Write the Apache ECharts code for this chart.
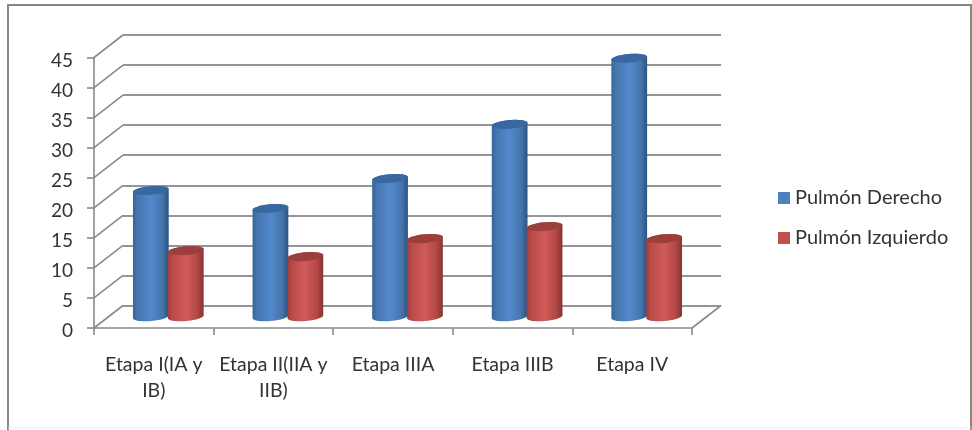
<!DOCTYPE html>
<html>
<head>
<meta charset="utf-8">
<style>html,body{margin:0;padding:0;background:#fff}#chart{width:972px;height:430px}</style>
<script src="https://cdn.jsdelivr.net/npm/echarts@6/dist/echarts.min.js"></script>
</head>
<body>
<div id="chart"></div>
<script>
const categories = ['Etapa I(IA y\nIB)', 'Etapa II(IIA y\nIIB)', 'Etapa IIIA', 'Etapa IIIB', 'Etapa IV'];
const derecho = [21, 18, 23, 32, 43];
const izquierdo = [11, 10, 13, 15, 13];
const yTicks = [0, 5, 10, 15, 20, 25, 30, 35, 40, 45];

// Depth of the pseudo-3D box, in pixels
const DEPTH_X = 29, DEPTH_Y = -22.5;
const AXIS = '#8a8a8a', WALL = '#959595', TEXT = '#333333', FONT = 'Lato';

function ring(cx, cy, a, b, from, to, steps) {
  const r = -5 * Math.PI / 180, pts = [];
  for (let i = 0; i <= steps; i++) {
    const t = from + (to - from) * i / steps;
    pts.push([
      cx + a * Math.cos(t) * Math.cos(r) - b * Math.sin(t) * Math.sin(r),
      cy + a * Math.cos(t) * Math.sin(r) + b * Math.sin(t) * Math.cos(r)
    ]);
  }
  return pts;
}

function cylinder(side, stops, capColor) {
  return function (params, api) {
    const base = api.coord([api.value(0), 0]);
    const top = api.coord([api.value(0), api.value(1)]);
    const band = api.size([1, 0])[0];
    const a = band * 0.15, b = 4.3;
    const cx = base[0] + DEPTH_X / 2 + side * band * 0.146;
    const y0 = base[1] + DEPTH_Y / 2;
    const y1 = top[1] + DEPTH_Y / 2;
    const outline = ring(cx, y0, a, b, 0, Math.PI, 24).concat(ring(cx, y1, a, b, Math.PI, 2 * Math.PI, 24));
    return {
      type: 'group',
      children: [
        {
          type: 'polygon',
          shape: { points: outline },
          style: {
            fill: {
              type: 'linear', x: 0, y: 0, x2: 1, y2: 0,
              colorStops: stops
            }
          }
        },
        {
          type: 'polygon',
          shape: { points: ring(cx, y1, a, b, 0, 2 * Math.PI, 48) },
          style: { fill: capColor }
        }
      ]
    };
  };
}

const blueStops = [
  { offset: 0, color: '#37659b' }, { offset: 0.12, color: '#4575ad' },
  { offset: 0.5, color: '#5389cd' }, { offset: 0.82, color: '#4675ad' }, { offset: 1, color: '#2c5280' }
];
const redStops = [
  { offset: 0, color: '#9c3e3c' }, { offset: 0.12, color: '#b94b49' },
  { offset: 0.5, color: '#d05b59' }, { offset: 0.82, color: '#b34846' }, { offset: 1, color: '#853331' }
];

const chart = echarts.init(document.getElementById('chart'), null, { renderer: 'canvas' });
chart.setOption({
  animation: false,
  backgroundColor: '#ffffff',
  textStyle: { fontFamily: FONT },
  graphic: [
    { type: 'polyline', shape: { points: [[8, 430], [8, 5], [971, 5], [971, 430]] }, style: { stroke: '#868686', lineWidth: 2, fill: null } },
    { type: 'line', shape: { x1: 8, y1: 428, x2: 971, y2: 428 }, style: { stroke: '#ececec', lineWidth: 1 } }
  ],
  legend: {
    orient: 'vertical', left: 773, top: 183,
    itemWidth: 12, itemHeight: 12, itemGap: 20,
    icon: 'rect',
    data: ['Pulmón Derecho', 'Pulmón Izquierdo'],
    textStyle: { fontFamily: FONT, fontSize: 20, color: TEXT }
  },
  grid: [
    { left: 94, top: 57.5, width: 598, height: 270.5 },
    { left: 94 + DEPTH_X, top: 57.5 + DEPTH_Y, width: 598, height: 270.5 }
  ],
  xAxis: [
    {
      type: 'category', data: categories, gridIndex: 0,
      axisLine: { lineStyle: { color: AXIS, width: 1.6 } },
      axisTick: { show: true, length: 7, lineStyle: { color: AXIS, width: 1.6 } },
      axisLabel: { margin: 24, fontSize: 19.5, color: TEXT, lineHeight: 26, interval: 0 }
    },
    { type: 'category', data: categories, gridIndex: 1, show: false }
  ],
  yAxis: [
    {
      type: 'value', min: 0, max: 45, interval: 5, gridIndex: 0,
      axisLine: { show: true, lineStyle: { color: AXIS, width: 1.6 } },
      axisTick: { show: true, length: 7, lineStyle: { color: AXIS, width: 1.6 } },
      axisLabel: { margin: 21, fontSize: 19, color: TEXT, verticalAlign: 'top', lineHeight: 6 },
      splitLine: { show: false }
    },
    {
      type: 'value', min: 0, max: 45, interval: 5, gridIndex: 1,
      axisLine: { show: false }, axisTick: { show: false }, axisLabel: { show: false },
      splitLine: { show: true, lineStyle: { color: WALL, width: 1.8 } }
    }
  ],
  series: [
    {
      // Receding edges of the left wall and the floor
      type: 'custom', coordinateSystem: 'cartesian2d', xAxisIndex: 0, yAxisIndex: 0,
      silent: true, clip: false, z: 1,
      data: yTicks.map(v => [0, v]).concat([[categories.length, 0]]),
      encode: { x: 0, y: 1 },
      renderItem(params, api) {
        const start = api.value(0) === 0
          ? [params.coordSys.x, api.coord([0, api.value(1)])[1]]
          : [params.coordSys.x + params.coordSys.width, params.coordSys.y + params.coordSys.height];
        return {
          type: 'line',
          shape: { x1: start[0], y1: start[1], x2: start[0] + DEPTH_X, y2: start[1] + DEPTH_Y },
          style: { stroke: AXIS, lineWidth: 1.6 }
        };
      }
    },
    {
      name: 'Pulmón Derecho', type: 'custom', coordinateSystem: 'cartesian2d', xAxisIndex: 0, yAxisIndex: 0,
      clip: false, z: 3, itemStyle: { color: '#4f81bd' },
      data: derecho.map((v, i) => [i, v]), encode: { x: 0, y: 1 },
      renderItem: cylinder(-1, blueStops, '#38689f')
    },
    {
      name: 'Pulmón Izquierdo', type: 'custom', coordinateSystem: 'cartesian2d', xAxisIndex: 0, yAxisIndex: 0,
      clip: false, z: 4, itemStyle: { color: '#c0504d' },
      data: izquierdo.map((v, i) => [i, v]), encode: { x: 0, y: 1 },
      renderItem: cylinder(1, redStops, '#9a3f3c')
    }
  ]
});
</script>
</body>
</html>
